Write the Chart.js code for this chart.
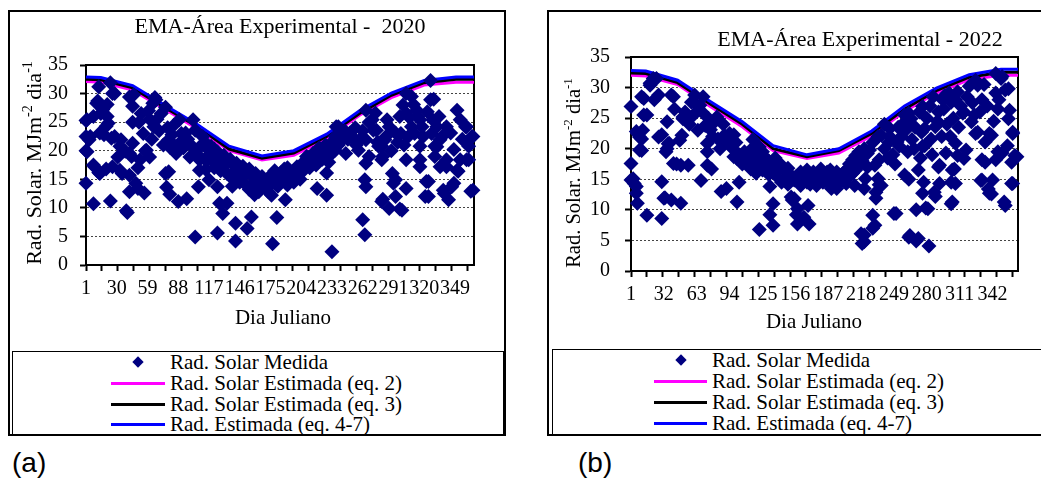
<!DOCTYPE html>
<html lang="pt">
<head>
<meta charset="utf-8">
<script src="https://cdn.jsdelivr.net/npm/chart.js@4.4.1/dist/chart.umd.min.js"></script>
<style>
  body { margin: 0; background: #fff; }
  #pagina { position: relative; width: 1041px; height: 479px; overflow: hidden; background: #fff;
            font-family: 'Liberation Serif', 'Times New Roman', serif; color: #000; }
  .painel { position: absolute; border: 2px solid #000; box-sizing: border-box; }
  .grafico { position: absolute; }
  .legenda { position: absolute; border: 1px solid #000; box-sizing: border-box; }
  .rotulo { position: absolute; font-size: 21px; line-height: 22px; height: 22px; white-space: nowrap; }
  .traco { position: absolute; height: 3px; }
  .losango { position: absolute; width: 8px; height: 8px; background: #000080; transform: rotate(45deg); }
  .letra { position: absolute; font-family: 'Liberation Sans', Arial, sans-serif; font-size: 28px; line-height: 30px; }
</style>
</head>
<body>
<div id="pagina">
  <div class="painel" style="left:8px; top:10px; width:498px; height:426px;"></div>
  <div class="painel" style="left:547px; top:10px; width:496px; height:426px;"></div>
  <canvas id="graficoA" class="grafico" width="494" height="336" style="left:10px; top:12px;"></canvas>
  <canvas id="graficoB" class="grafico" width="490" height="336" style="left:549px; top:12px;"></canvas>
  <div class="legenda" style="left:12px; top:351px; width:492px; height:84px;"></div>
  <div class="legenda" style="left:552px; top:349px; width:491px; height:86px;"></div>
  <div id="legendaA"></div>
  <div id="legendaB"></div>
  <div class="letra" style="left:12px; top:448px;">(a)</div>
  <div class="letra" style="left:578px; top:448px;">(b)</div>
</div>
<script>
// Eixo X: dia juliano
const rotulosXA = [1, 30, 59, 88, 117, 146, 175, 204, 233, 262, 291, 320, 349];
const rotulosXB = [1, 32, 63, 94, 125, 156, 187, 218, 249, 280, 311, 342];
const marcasX = [1, 16, 31, 46, 61, 76, 91, 106, 121, 136, 151, 166, 181, 196, 211, 226, 241, 256, 271, 286, 301, 316, 331, 346, 361];
const rotulosY = [0, 5, 10, 15, 20, 25, 30, 35];

// Curvas estimadas (valores mensais ligados por retas)
const diasCurvaA = [1, 15, 45, 75, 106, 136, 167, 197, 228, 259, 289, 320, 350, 367];
const eq2A  = [32.1, 32.0, 30.6, 27.3, 23.8, 20.0, 18.4, 19.2, 22.1, 26.2, 29.3, 31.5, 32.0, 32.0];
const eq3A  = [32.5, 32.4, 31.0, 27.6, 24.2, 20.3, 18.7, 19.6, 22.5, 26.5, 29.7, 31.9, 32.5, 32.5];
const eq47A = [32.9, 32.8, 31.4, 28.0, 24.6, 20.8, 19.1, 20.0, 22.9, 27.0, 30.1, 32.3, 32.9, 32.9];

const diasCurvaB = [1, 15, 45, 75, 106, 135, 167, 197, 228, 259, 289, 320, 350, 366];
const eq2B  = [32.0, 31.9, 30.5, 27.0, 23.6, 19.7, 18.4, 19.3, 22.1, 26.1, 29.1, 31.3, 32.0, 32.0];
const eq3B  = [32.4, 32.3, 30.8, 27.4, 24.0, 20.0, 18.7, 19.7, 22.5, 26.5, 29.5, 31.7, 32.5, 32.5];
const eq47B = [32.8, 32.7, 31.2, 27.8, 24.4, 20.5, 19.0, 20.0, 22.9, 27.0, 29.9, 32.1, 33.0, 33.0];

// Radiação solar medida [dia, MJ m-2 dia-1] - 2020
const medidaA = [
  [1,25.3],[1,20.0],[1,14.3],[1,22.5],[2,19.8],[2,25.4],[4,21.9],[5,22.5],[8,10.7],[8,17.5],[8,26.0],[9,17.2],
  [11,28.3],[12,28.7],[13,31.2],[13,16.2],[14,23.1],[14,16.0],[15,26.5],[17,27.2],[18,22.8],[20,24.3],[20,16.8],
  [21,28.1],[21,26.0],[22,24.8],[24,11.2],[24,31.9],[25,22.2],[26,30.0],[26,17.2],[28,30.0],[28,22.5],[31,18.9],
  [33,16.6],[33,20.8],[34,21.9],[35,16.0],[38,19.9],[39,9.5],[40,9.2],[42,12.8],[42,15.7],[42,29.4],[42,19.5],
  [44,19.0],[45,27.8],[45,21.3],[45,25.0],[46,29.8],[48,14.3],[50,13.4],[50,17.0],[51,25.0],[52,18.4],[53,26.5],
  [55,23.0],[56,12.6],[57,20.0],[58,20.1],[60,27.0],[61,18.9],[61,25.5],[63,22.0],[64,28.3],[65,24.2],[66,29.3],
  [67,28.9],[68,25.5],[70,23.5],[72,26.5],[74,21.0],[76,27.6],[76,16.0],[77,13.6],[78,24.0],[79,16.3],[79,21.9],
  [80,12.4],[80,20.6],[82,22.8],[84,24.5],[86,19.5],[88,11.1],[89,21.3],[89,25.4],[91,23.0],[93,20.5],[95,23.1],
  [96,11.6],[97,22.0],[99,18.9],[100,21.0],[102,25.4],[104,4.9],[104,23.6],[105,20.0],[107,13.7],[108,16.6],
  [108,18.4],[108,19.0],[110,21.0],[111,22.5],[113,18.5],[114,20.6],[114,16.7],[116,21.0],[116,18.5],[117,14.9],
  [119,20.8],[119,19.5],[120,19.0],[122,20.3],[122,17.0],[123,17.8],[125,13.7],[125,5.6],[125,19.8],[125,18.0],
  [127,10.8],[128,19.0],[128,16.5],[130,9.0],[131,19.2],[131,17.4],[132,18.3],[134,10.8],[134,18.2],[134,16.0],
  [137,18.5],[137,15.5],[139,17.8],[139,13.8],[140,17.5],[140,16.2],[142,4.2],[142,7.3],[143,17.8],[143,15.0],
  [145,17.2],[146,17.0],[146,14.5],[149,17.3],[149,15.5],[152,16.5],[152,14.0],[153,6.4],[155,16.8],[155,13.2],
  [157,8.4],[158,15.5],[158,14.2],[160,12.3],[161,16.0],[161,13.0],[164,15.0],[164,12.8],[167,15.5],[167,14.0],
  [170,14.8],[170,13.5],[173,15.2],[173,12.8],[176,12.2],[176,15.8],[176,14.2],[177,3.7],[179,16.5],[179,14.5],
  [181,8.3],[182,15.5],[182,13.8],[185,16.2],[185,14.8],[188,16.8],[188,15.2],[189,11.4],[191,17.0],[191,14.0],
  [194,16.0],[194,15.0],[197,16.5],[197,14.5],[200,17.2],[200,15.8],[203,16.8],[203,15.0],[206,18.0],[206,16.5],
  [209,17.5],[209,19.0],[212,18.5],[212,17.0],[215,19.5],[215,18.0],[218,19.8],[218,17.5],[219,13.4],[221,18.8],
  [221,20.5],[224,20.0],[224,18.5],[227,19.2],[227,21.0],[228,12.2],[228,16.1],[230,20.5],[230,18.0],[233,2.3],
  [233,21.5],[233,19.5],[236,22.5],[236,20.1],[237,24.2],[239,24.2],[239,21.0],[240,22.5],[243,21.9],[245,23.5],
  [246,19.5],[248,22.0],[250,23.1],[252,22.5],[255,24.0],[256,21.0],[258,20.1],[259,21.9],[262,7.9],[262,23.5],
  [264,5.3],[264,14.9],[265,13.7],[265,17.8],[265,21.9],[265,27.1],[268,25.0],[268,19.0],[271,25.4],[272,23.6],
  [274,26.6],[275,23.6],[276,21.5],[277,20.8],[280,11.1],[280,18.4],[280,20.8],[281,11.5],[281,19.0],[283,21.9],
  [284,22.5],[285,25.4],[287,9.9],[287,24.2],[289,20.0],[290,16.0],[291,14.3],[293,12.0],[293,23.1],[293,14.9],
  [295,21.5],[297,9.8],[297,26.0],[298,23.0],[299,9.6],[300,28.0],[301,21.0],[303,13.4],[303,18.4],[303,30.0],
  [303,26.6],[305,22.5],[306,25.8],[308,29.5],[308,24.2],[310,28.1],[311,23.0],[313,27.1],[314,26.0],[316,25.4],
  [316,20.8],[316,18.4],[316,17.2],[318,24.2],[319,22.5],[321,12.0],[322,14.6],[323,26.8],[324,12.0],[324,14.6],
  [326,32.3],[326,28.9],[327,23.0],[328,25.4],[329,29.0],[330,20.8],[330,19.0],[332,20.7],[332,24.2],[334,26.0],
  [335,21.9],[335,17.2],[337,22.5],[338,13.1],[339,12.5],[341,17.2],[341,18.4],[341,24.2],[343,11.4],[345,23.1],
  [346,13.7],[348,14.3],[348,20.2],[351,27.1],[351,16.6],[352,16.4],[354,18.4],[354,25.4],[356,22.0],[359,24.2],
  [360,18.4],[360,24.2],[362,20.8],[362,18.4],[364,12.9],[365,22.5],[366,13.1],[366,22.5]
];

// Radiação solar medida [dia, MJ m-2 dia-1] - 2022
const medidaB = [
  [1,26.9],[1,17.6],[1,14.9],[3,15.1],[4,14.3],[6,12.7],[6,13.8],[6,22.8],[7,11.1],[7,22.5],[9,19.8],[9,21.9],
  [11,28.5],[11,21.6],[11,19.7],[12,23.0],[13,25.5],[13,28.2],[16,9.1],[16,25.5],[19,30.7],[19,30.4],[22,31.5],
  [23,28.0],[25,31.5],[27,21.9],[27,28.8],[30,8.6],[30,14.6],[30,22.3],[32,11.9],[33,12.0],[34,19.5],[35,20.0],
  [35,24.4],[36,20.8],[37,20.9],[39,11.6],[39,28.8],[41,17.6],[41,28.5],[42,26.5],[44,17.5],[47,21.4],[48,11.1],
  [48,17.3],[49,22.2],[50,25.2],[50,24.9],[52,26.0],[55,17.3],[56,24.0],[58,27.6],[60,25.5],[61,28.8],[63,27.1],
  [64,23.0],[66,27.1],[67,14.8],[68,26.0],[69,28.5],[71,23.8],[73,20.9],[73,19.5],[73,17.3],[74,25.0],[76,23.1],
  [77,16.7],[78,22.0],[80,24.4],[82,25.2],[83,21.6],[85,20.0],[86,13.0],[88,24.0],[89,22.2],[91,13.5],[92,21.0],
  [94,22.5],[95,20.5],[97,20.0],[98,18.7],[98,22.3],[100,21.0],[101,11.3],[101,18.4],[103,14.5],[103,19.0],
  [106,17.5],[108,19.5],[110,18.7],[112,18.5],[114,16.7],[115,20.0],[116,21.5],[116,18.0],[119,16.0],[119,20.0],
  [120,17.8],[122,6.8],[122,20.3],[122,19.0],[124,18.9],[125,19.5],[125,16.5],[128,18.5],[128,17.0],[131,18.0],
  [131,15.8],[132,13.8],[132,9.2],[135,17.1],[135,11.0],[135,7.5],[137,18.5],[137,16.0],[140,17.5],[140,15.2],
  [141,17.1],[143,17.3],[143,14.5],[146,16.5],[146,15.0],[149,16.8],[149,14.2],[150,16.0],[150,15.1],[152,12.1],
  [153,11.6],[155,14.9],[155,11.8],[157,9.2],[157,15.5],[158,10.2],[158,7.7],[161,16.2],[161,14.0],[164,8.8],
  [164,15.8],[167,16.5],[167,14.5],[168,10.7],[169,7.7],[170,15.8],[170,14.2],[173,16.2],[173,15.0],[176,15.5],
  [176,14.0],[179,16.3],[179,14.8],[180,16.7],[182,15.8],[182,14.5],[184,14.8],[186,16.2],[186,15.0],[189,16.5],
  [189,14.2],[190,13.5],[192,15.8],[192,14.8],[195,16.2],[195,13.5],[198,15.6],[198,14.5],[201,16.0],[201,15.2],
  [202,15.6],[204,16.5],[204,14.3],[207,17.5],[207,15.5],[210,18.2],[210,16.0],[212,14.0],[213,18.9],[213,16.5],
  [216,19.5],[216,17.2],[218,6.1],[219,4.5],[219,18.0],[221,4.8],[221,5.9],[221,13.5],[221,20.0],[222,15.1],
  [224,19.2],[224,17.0],[226,19.8],[229,9.1],[229,7.0],[229,21.0],[231,7.5],[231,17.3],[232,12.9],[232,11.9],
  [234,15.1],[234,22.0],[235,14.1],[235,18.2],[237,14.0],[237,22.2],[240,20.0],[240,24.0],[243,18.5],[244,21.0],
  [245,22.0],[245,23.3],[248,19.0],[249,9.4],[250,17.5],[251,9.4],[252,21.1],[253,23.5],[254,20.4],[256,22.0],
  [257,24.0],[259,15.7],[259,25.5],[260,23.0],[262,19.5],[263,5.5],[263,15.0],[263,24.2],[263,25.8],[264,5.8],
  [265,24.9],[266,21.5],[268,20.0],[269,23.5],[270,4.9],[270,10.0],[272,5.3],[272,16.5],[273,26.0],[274,18.5],
  [275,22.7],[276,12.7],[276,20.4],[276,26.9],[277,14.5],[278,20.5],[278,23.3],[279,10.3],[280,25.0],[281,10.2],
  [282,4.1],[283,27.0],[284,21.6],[285,19.0],[286,28.5],[287,12.9],[288,12.2],[288,23.6],[290,24.5],[291,17.0],
  [291,26.0],[292,17.3],[292,14.3],[294,22.0],[295,28.0],[296,26.5],[297,28.7],[298,19.3],[299,24.0],[301,29.1],
  [302,22.0],[303,11.0],[303,14.5],[303,27.6],[304,16.5],[304,11.3],[305,25.0],[306,16.7],[307,14.3],[307,20.9],
  [307,28.0],[309,18.9],[309,29.3],[310,23.5],[312,27.0],[314,25.8],[315,18.4],[315,26.0],[317,19.8],[318,28.5],
  [320,30.2],[322,24.4],[323,27.5],[325,25.5],[326,31.2],[326,22.5],[328,30.4],[328,22.7],[330,26.0],[331,14.8],
  [332,14.9],[332,18.2],[332,28.0],[334,30.5],[335,17.8],[335,21.1],[337,27.0],[338,13.4],[339,12.7],[339,22.5],
  [341,12.6],[341,22.2],[342,14.9],[343,24.5],[345,32.3],[345,29.1],[345,18.2],[347,19.5],[347,26.5],[348,28.0],
  [350,31.5],[351,31.8],[351,19.3],[353,11.3],[354,10.7],[354,29.6],[356,20.5],[357,29.8],[357,24.9],[358,26.3],
  [360,14.3],[360,17.8],[361,14.3],[361,22.5],[361,22.7],[363,18.9],[365,18.7]
];

const nomesSeries = ['Rad. Solar Medida', 'Rad. Solar Estimada (eq. 2)', 'Rad. Solar Estimada (eq. 3)', 'Rad. Estimada (eq. 4-7)'];
const coresSeries = ['#000080', '#FF00FF', '#000000', '#0000FF'];

const FONTE = '"Liberation Serif", "Times New Roman", serif';

function pares(dias, valores) {
    return dias.map((d, i) => ({ x: d, y: valores[i] }));
}

// Título, título do eixo X e título do eixo Y (com expoentes)
const textosPlugin = {
    id: 'textos',
    afterDraw(chart, args, opts) {
        const { ctx } = chart;
        ctx.save();
        ctx.fillStyle = '#000';
        ctx.textBaseline = 'middle';
        ctx.textAlign = 'center';
        ctx.font = opts.tamTitulo + 'px ' + FONTE;
        ctx.fillText(opts.titulo, opts.tituloX, opts.tituloY);
        ctx.font = opts.tamEixo + 'px ' + FONTE;
        ctx.fillText('Dia Juliano', opts.eixoXx, opts.eixoXy);

        // texto vertical, de baixo para cima
        const tam = opts.tamEixoY;
        const partes = [['Rad. Solar. MJm', false], ['-2', true], [' dia', false], ['-1', true]];
        const fontes = partes.map(p => (p[1] ? Math.round(tam * 0.62) : tam) + 'px ' + FONTE);
        let total = 0;
        const larguras = partes.map((p, i) => {
            ctx.font = fontes[i];
            const w = ctx.measureText(p[0]).width;
            total += w;
            return w;
        });
        ctx.translate(opts.eixoYx, opts.eixoYy);
        ctx.rotate(-Math.PI / 2);
        ctx.textAlign = 'left';
        ctx.textBaseline = 'alphabetic';
        let x = -total / 2;
        const base = tam * 0.33;
        partes.forEach((p, i) => {
            ctx.font = fontes[i];
            ctx.fillText(p[0], x, p[1] ? base - tam * 0.4 : base);
            x += larguras[i];
        });
        ctx.restore();
    }
};

// Moldura preta da área de plotagem
const molduraPlugin = {
    id: 'moldura',
    beforeDatasetsDraw(chart) {
        const { ctx, chartArea: a } = chart;
        ctx.save();
        ctx.strokeStyle = '#000';
        ctx.lineWidth = 2;
        ctx.strokeRect(a.left, a.top, a.right - a.left, a.bottom - a.top);
        ctx.restore();
    }
};

function criarGrafico(id, medida, diasCurva, eq2, eq3, eq47, rotulosX, cfg) {
    const linha = (nome, cor, dados) => ({
        label: nome,
        data: pares(diasCurva, dados),
        showLine: true,
        borderColor: cor,
        backgroundColor: cor,
        borderWidth: 3,
        pointRadius: 0,
        tension: 0
    });

    return new Chart(document.getElementById(id), {
        type: 'scatter',
        data: {
            datasets: [
                {
                    label: nomesSeries[0],
                    data: medida.map(p => ({ x: p[0], y: p[1] })),
                    pointStyle: 'rectRot',
                    pointRadius: 7.5,
                    pointBackgroundColor: coresSeries[0],
                    pointBorderWidth: 0,
                    clip: false
                },
                linha(nomesSeries[3], coresSeries[3], eq47),
                linha(nomesSeries[2], coresSeries[2], eq3),
                linha(nomesSeries[1], coresSeries[1], eq2)
            ]
        },
        options: {
            responsive: false,
            animation: false,
            devicePixelRatio: 1,
            layout: { padding: { left: 0, top: cfg.topo, right: cfg.direita, bottom: 0 } },
            plugins: {
                legend: { display: false },
                tooltip: { enabled: false },
                textos: cfg.textos
            },
            scales: {
                x: {
                    type: 'linear',
                    min: 1,
                    max: cfg.maxX,
                    afterFit: s => { s.height = cfg.altX; },
                    afterBuildTicks: s => {
                        const v = [...new Set([...marcasX, ...rotulosX])].sort((a, b) => a - b);
                        s.ticks = v.map(value => ({ value }));
                    },
                    grid: {
                        drawOnChartArea: false,
                        drawTicks: true,
                        tickLength: 6,
                        tickWidth: 2,
                        tickColor: c => marcasX.includes(c.tick && c.tick.value) ? '#000' : 'rgba(0,0,0,0)'
                    },
                    border: { display: true, color: '#000', width: 2 },
                    ticks: {
                        autoSkip: false,
                        maxRotation: 0,
                        padding: 6,
                        color: '#000',
                        font: { family: FONTE, size: 20 },
                        callback: v => rotulosX.includes(v) ? String(v) : ''
                    }
                },
                y: {
                    min: 0,
                    max: 35,
                    afterFit: s => { s.width = cfg.largY; },
                    afterBuildTicks: s => { s.ticks = rotulosY.map(value => ({ value })); },
                    grid: {
                        color: '#444',
                        lineWidth: 1,
                        drawTicks: true,
                        tickLength: 6,
                        tickWidth: 2,
                        tickColor: '#000'
                    },
                    border: { display: true, color: '#000', width: 2, dash: [2, 2] },
                    ticks: {
                        padding: cfg.padY,
                        color: '#000',
                        font: { family: FONTE, size: 20 }
                    }
                }
            }
        },
        plugins: [molduraPlugin, textosPlugin]
    });
}

criarGrafico('graficoA', medidaA, diasCurvaA, eq2A, eq3A, eq47A, rotulosXA, {
    topo: 53, direita: 30, altX: 83, largY: 76, maxX: 367, padY: 12,
    textos: { titulo: 'EMA-Área Experimental -  2020', tamTitulo: 22, tituloX: 270, tituloY: 15,
              tamEixo: 21, eixoXx: 273, eixoXy: 306, tamEixoY: 22, eixoYx: 24, eixoYy: 151 }
});

criarGrafico('graficoB', medidaB, diasCurvaB, eq2B, eq3B, eq47B, rotulosXB, {
    topo: 45, direita: 21, altX: 77, largY: 82, maxX: 366, padY: 15,
    textos: { titulo: 'EMA-Área Experimental - 2022', tamTitulo: 22, tituloX: 311, tituloY: 28,
              tamEixo: 21, eixoXx: 265, eixoXy: 310, tamEixoY: 20.5, eixoYx: 24, eixoYy: 161 }
});

// Legendas em caixa abaixo de cada gráfico
function montarLegenda(id, xMarca, xTexto, linhasY) {
    const el = document.getElementById(id);
    nomesSeries.forEach((nome, i) => {
        const cy = linhasY[i];
        if (i === 0) {
            el.insertAdjacentHTML('beforeend',
                `<div class="losango" style="left:${xMarca + 23}px; top:${cy - 4}px;"></div>`);
        } else {
            el.insertAdjacentHTML('beforeend',
                `<div class="traco" style="left:${xMarca}px; top:${cy - 1.5}px; width:${xTexto - xMarca - 5}px; background:${coresSeries[i]};"></div>`);
        }
        el.insertAdjacentHTML('beforeend',
            `<div class="rotulo" style="left:${xTexto}px; top:${cy - 11}px;">${nome}</div>`);
    });
}

montarLegenda('legendaA', 111, 170, [362, 383, 404, 424]);
montarLegenda('legendaB', 654, 712, [360, 381, 402, 423]);
</script>
</body>
</html>
